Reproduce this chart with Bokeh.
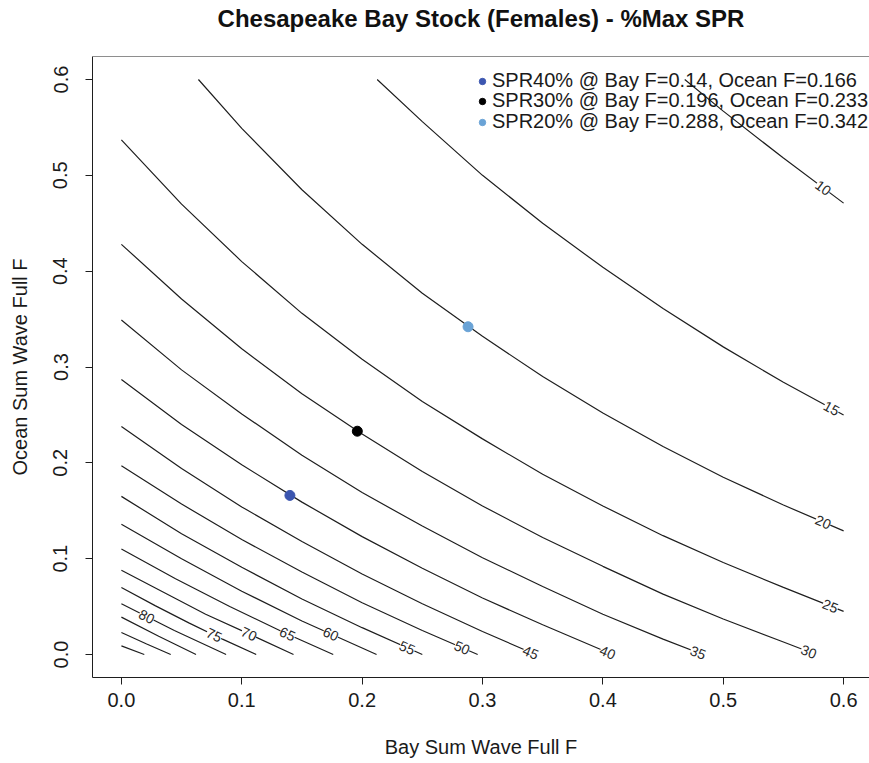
import numpy as np
from bokeh.plotting import figure
from bokeh.models import (Range1d, FixedTicker, PrintfTickFormatter, ColumnDataSource,
                          LabelSet, Legend, LegendItem, Span, Title)
from bokeh.core.properties import value
from bokeh.embed import file_html
from bokeh.resources import INLINE

# ---------------- data ----------------
TITLE = "Chesapeake Bay Stock (Females) - %Max SPR"
X_TITLE = "Bay Sum Wave Full F"
Y_TITLE = "Ocean Sum Wave Full F"
x_tick_values = [0.0, 0.1, 0.2, 0.3, 0.4, 0.5, 0.6]
y_tick_values = [0.0, 0.1, 0.2, 0.3, 0.4, 0.5, 0.6]

spr_levels = [10, 15, 20, 25, 30, 35, 40, 45, 50, 55, 60, 65, 70, 75, 80, 85, 90, 95]

spr10_bay = [0.468, 0.50, 0.55, 0.60]
spr10_ocean = [0.600, 0.567, 0.518, 0.471]
spr15_bay = [0.2125, 0.25, 0.30, 0.35, 0.40, 0.45, 0.50, 0.55, 0.60]
spr15_ocean = [0.600, 0.556, 0.500, 0.450, 0.404, 0.361, 0.321, 0.284, 0.250]
spr20_bay = [0.064, 0.10, 0.15, 0.20, 0.25, 0.30, 0.35, 0.40, 0.45, 0.50, 0.55, 0.60]
spr20_ocean = [0.600, 0.549, 0.485, 0.428, 0.377, 0.332, 0.290, 0.252, 0.217, 0.185, 0.156, 0.129]
spr25_bay = [0.0, 0.05, 0.10, 0.15, 0.20, 0.25, 0.30, 0.35, 0.40, 0.45, 0.50, 0.55, 0.60]
spr25_ocean = [0.537, 0.470, 0.410, 0.356, 0.308, 0.264, 0.225, 0.188, 0.155, 0.124, 0.096, 0.070, 0.045]
spr30_bay = [0.0, 0.05, 0.10, 0.15, 0.20, 0.25, 0.30, 0.35, 0.40, 0.45, 0.50, 0.55, 0.577]
spr30_ocean = [0.428, 0.371, 0.319, 0.272, 0.230, 0.191, 0.155, 0.122, 0.092, 0.063, 0.037, 0.013, 0.0]
spr35_bay = [0.0, 0.05, 0.10, 0.15, 0.20, 0.25, 0.30, 0.35, 0.40, 0.45, 0.483]
spr35_ocean = [0.349, 0.297, 0.251, 0.208, 0.169, 0.134, 0.101, 0.071, 0.042, 0.016, 0.0]
spr40_bay = [0.0, 0.05, 0.10, 0.15, 0.20, 0.25, 0.30, 0.35, 0.408]
spr40_ocean = [0.287, 0.240, 0.198, 0.159, 0.123, 0.090, 0.059, 0.031, 0.0]
spr45_bay = [0.0, 0.05, 0.10, 0.15, 0.20, 0.25, 0.30, 0.344]
spr45_ocean = [0.238, 0.194, 0.154, 0.118, 0.084, 0.053, 0.024, 0.0]
spr50_bay = [0.0, 0.05, 0.10, 0.15, 0.20, 0.25, 0.296]
spr50_ocean = [0.197, 0.157, 0.120, 0.086, 0.054, 0.025, 0.0]
spr55_bay = [0.0, 0.05, 0.10, 0.15, 0.20, 0.25]
spr55_ocean = [0.165, 0.126, 0.091, 0.058, 0.028, 0.0]
spr60_bay = [0.0, 0.05, 0.10, 0.15, 0.212]
spr60_ocean = [0.136, 0.100, 0.066, 0.035, 0.0]
spr65_bay = [0.0, 0.045, 0.09, 0.135, 0.176]
spr65_ocean = [0.110, 0.079, 0.050, 0.023, 0.0]
spr70_bay = [0.0, 0.035, 0.07, 0.105, 0.143]
spr70_ocean = [0.088, 0.065, 0.042, 0.022, 0.0]
spr75_bay = [0.0, 0.028, 0.056, 0.084, 0.112]
spr75_ocean = [0.070, 0.051, 0.033, 0.016, 0.0]
spr80_bay = [0.0, 0.044, 0.087]
spr80_ocean = [0.053, 0.025, 0.0]
spr85_bay = [0.0, 0.031, 0.062]
spr85_ocean = [0.039, 0.019, 0.0]
spr90_bay = [0.0, 0.021, 0.041]
spr90_ocean = [0.023, 0.011, 0.0]
spr95_bay = [0.0, 0.019]
spr95_ocean = [0.009, 0.0]

# contour labels: level and the Bay F where its label sits on the line
labeled_levels = [10, 15, 20, 25, 30, 35, 40, 45, 50, 55, 60, 65, 70, 75, 80]
label_bay_f = [0.583, 0.590, 0.583, 0.589, 0.571, 0.479, 0.404, 0.340, 0.283, 0.2375,
               0.174, 0.138, 0.106, 0.077, 0.021]

# reference points
ref_bay_f = [0.14, 0.196, 0.288]
ref_ocean_f = [0.166, 0.233, 0.342]
ref_legend = ["SPR40% @ Bay F=0.14, Ocean F=0.166",
              "SPR30% @ Bay F=0.196, Ocean F=0.233",
              "SPR20% @ Bay F=0.288, Ocean F=0.342"]
ref_colors = ["#3c56b0", "#000000", "#6aa3d6"]

contour_bay = [spr10_bay, spr15_bay, spr20_bay, spr25_bay, spr30_bay, spr35_bay, spr40_bay,
               spr45_bay, spr50_bay, spr55_bay, spr60_bay, spr65_bay, spr70_bay, spr75_bay,
               spr80_bay, spr85_bay, spr90_bay, spr95_bay]
contour_ocean = [spr10_ocean, spr15_ocean, spr20_ocean, spr25_ocean, spr30_ocean, spr35_ocean,
                 spr40_ocean, spr45_ocean, spr50_ocean, spr55_ocean, spr60_ocean, spr65_ocean,
                 spr70_ocean, spr75_ocean, spr80_ocean, spr85_ocean, spr90_ocean, spr95_ocean]

# ---------------- layout / style ----------------
FONT = "Liberation Sans"
INK = "#1e1e1e"
W, H = 869, 763
ML, MR, MT, MB = 92, 0, 56, 86
XS, XE_R = -0.024, 0.624          # R's padded data range
YS, YE = -0.024, 0.624
R_BOX_W = 780                      # reference box width in px (partly cut off)
frame_w = W - ML - MR
frame_h = H - MT - MB
x_end = XS + (XE_R - XS) * frame_w / R_BOX_W
px_per_x = frame_w / (x_end - XS)
px_per_y = frame_h / (YE - YS)

p = figure(width=W, height=H, output_backend="svg", toolbar_location=None, title=None,
           x_range=Range1d(XS, x_end), y_range=Range1d(YS, YE),
           min_border_left=ML, min_border_right=MR, min_border_top=MT, min_border_bottom=MB)
p.grid.visible = False
p.outline_line_color = None
p.background_fill_color = "white"
p.border_fill_color = "white"

# spacer (closest to the frame) then the real title above it
p.add_layout(Title(text=" ", text_font_size="1px", standoff=22), "above")
p.add_layout(Title(text=TITLE, text_font=FONT, text_font_size="24px", text_font_style="bold",
                   text_color="#111111", align="center", standoff=0), "above")

for ax in (p.xaxis[0], p.yaxis[0]):
    ax.major_tick_out = 7
    ax.major_tick_in = 0
    ax.minor_tick_line_color = None
    ax.axis_line_color = INK
    ax.major_tick_line_color = INK
    ax.major_label_text_font = FONT
    ax.major_label_text_font_size = "20px"
    ax.major_label_text_color = "#1a1a1a"
    ax.axis_label_text_font = FONT
    ax.axis_label_text_font_size = "20px"
    ax.axis_label_text_font_style = "normal"
    ax.axis_label_text_color = "#1a1a1a"
    ax.formatter = PrintfTickFormatter(format="%.1f")

p.xaxis[0].ticker = FixedTicker(ticks=x_tick_values)
p.yaxis[0].ticker = FixedTicker(ticks=y_tick_values)
p.xaxis[0].axis_label = X_TITLE
p.yaxis[0].axis_label = Y_TITLE
p.xaxis[0].major_label_standoff = 8
p.xaxis[0].axis_label_standoff = 26
p.yaxis[0].major_label_orientation = "vertical"
p.yaxis[0].major_label_standoff = 18
p.yaxis[0].axis_label_standoff = 20

# top edge of the box (right edge falls outside the picture in the reference)
p.add_layout(Span(location=YE, dimension="width", line_color=INK, line_width=1))

# ---------------- contour lines ----------------
for bay, ocean in zip(contour_bay, contour_ocean):
    p.line(bay, ocean, line_color=INK, line_width=1.2)

# ---------------- contour labels ----------------
lx, ly, la, lt = [], [], [], []
for lvl, bx in zip(labeled_levels, label_bay_f):
    i = spr_levels.index(lvl)
    bay = np.array(contour_bay[i])
    oc = np.array(contour_ocean[i])
    y = float(np.interp(bx, bay, oc))
    xa = max(bx - 0.012, bay[0])
    xb = min(bx + 0.012, bay[-1])
    ya = np.interp(xa, bay, oc)
    yb = np.interp(xb, bay, oc)
    ang = float(np.arctan2((yb - ya) * px_per_y, (xb - xa) * px_per_x))
    lx.append(bx)
    ly.append(y)
    la.append(ang)
    lt.append(str(lvl))

lab_src = ColumnDataSource(dict(x=lx, y=ly, angle=la, text=lt))
labels = LabelSet(x="x", y="y", text="text", angle="angle", source=lab_src,
                  text_font=value(FONT), text_font_size=value("14px"),
                  text_color="#2a2a2a", text_align="center", text_baseline="middle",
                  background_fill_color="white", background_fill_alpha=1.0)
p.add_layout(labels)

# ---------------- reference points + legend (one row per legend box) ----------------
legend_rows_offset = [585, 565, 544]   # px above the frame bottom for each row box
for bx, oy, col, lab, off in zip(ref_bay_f, ref_ocean_f, ref_colors, ref_legend, legend_rows_offset):
    r = p.scatter([bx], [oy], size=10, fill_color=col, line_color=col)
    lg = Legend(items=[LegendItem(label=lab, renderers=[r])], location=(382, off),
                background_fill_alpha=0.0, border_line_color=None,
                label_text_font=FONT, label_text_font_size="20px", label_text_color="#1a1a1a",
                glyph_width=16, glyph_height=16, label_standoff=2,
                spacing=0, padding=0, margin=0, label_height=18)
    p.add_layout(lg)

open("out.html", "w").write(file_html(p, INLINE))
